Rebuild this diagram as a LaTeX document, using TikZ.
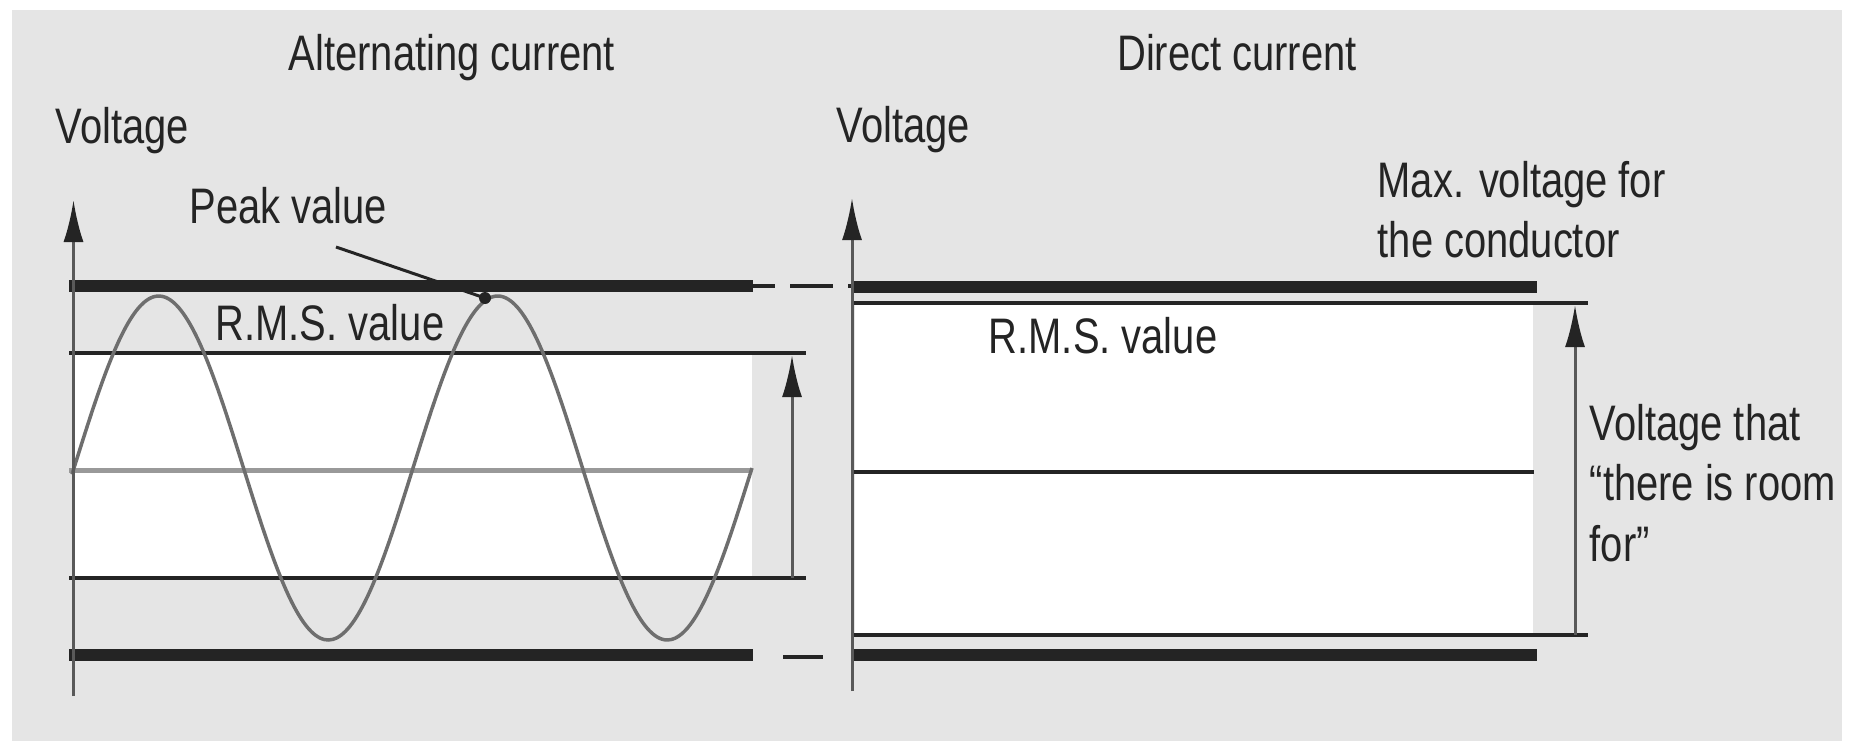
\documentclass[tikz,border=0pt]{standalone}
\usepackage{fontspec}
\setmainfont{Liberation Sans}[FakeStretch=0.8]
\usepackage{xcolor}
\usetikzlibrary{arrows.meta}
\definecolor{panelgray}{HTML}{E5E5E5}
\definecolor{inkgray}{HTML}{242424}
\definecolor{wavegray}{HTML}{6E6E6E}

\begin{document}
\begin{tikzpicture}[x=0.1mm, y=-0.1mm,
    every node/.style={inner sep=0pt, text=inkgray, font=\fontsize{14.2pt}{17.1pt}\selectfont},
    rail/.style={line width=1.2mm, inkgray},
    level/.style={line width=0.35mm, inkgray},
    voltaxis/.style={line width=0.3mm, black!65, -{Latex[length=4.2mm,width=2mm,color=inkgray]}}]
    \useasboundingbox (0,0) rectangle (1869,747);
    \fill[white] (0,0) rectangle (1869,747);
    \fill[panelgray] (12,10) rectangle (1842,741);
    % alternating current
    \fill[white] (75,353) rectangle (752,578);
    \draw[level] (69,353)--(806,353);
    \draw[level] (69,578)--(806,578);
    \draw[line width=0.5mm, black!40] (69,470)--(752,470);
    \draw[wavegray, line width=0.35mm, domain=72:752, samples=160, smooth]
    plot (\x, {468-172*sin((\x-74)/339*360)});
    \draw[rail] (69,286)--(753,286);
    \draw[rail] (69,655)--(753,655);
    \draw[level, dash pattern=on 4.3mm off 1.5mm, dash phase=2.1mm] (753,286)--(852,286);
    \draw[level, dash pattern=on 4mm off 3mm, dash phase=4mm] (753,657)--(852,657);
    \draw[voltaxis] (73.5,696)--(73.5,200);
    \draw[voltaxis] (792,578)--(792,355);
    % direct current
    \fill[white] (855,303) rectangle (1533,635);
    \draw[rail] (852,287)--(1537,287);
    \draw[level] (852,303)--(1588,303);
    \draw[level] (852,472)--(1534,472);
    \draw[level] (852,635)--(1588,635);
    \draw[rail] (852,655)--(1537,655);
    \draw[voltaxis] (852,691)--(852,198);
    \draw[voltaxis] (1575,635)--(1575,305);
    % labels
    \node[anchor=base] (actitle) at (452,70) {Alternating current};
    \node[anchor=base] (dctitle) at (1237,70) {Direct current};
    \node[anchor=base west] (acvolt) at (55,143) {Voltage};
    \node[anchor=base west] (dcvolt) at (836,142) {Voltage};
    \node[anchor=base west] (peak) at (189,223) {Peak value};
    \node[anchor=base west] (acrms) at (215,340) {R.M.S. value};
    \node[anchor=base west] (dcrms) at (988,353) {R.M.S. value};
    \node[anchor=north west, align=left] (maxvolt) at (1377,161) {Max. voltage for\\the conductor};
    \node[anchor=north west, align=left] (room) at (1589,404) {Voltage that\\``there is room\\for''};
    \node[circle, fill=inkgray, minimum size=1.2mm] (peakdot) at (485,298) {};
    \coordinate (peaktail) at (336,247);
    \draw[inkgray, line width=0.3mm] (peaktail)--(peakdot.center);
\end{tikzpicture}
\end{document}
